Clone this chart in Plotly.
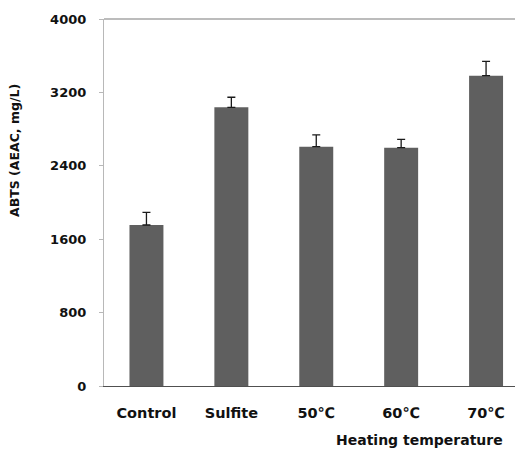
import plotly.graph_objects as go

categories = ["Control", "Sulfite", "50℃", "60℃", "70℃"]
values = [1755, 3037, 2608, 2598, 3382]
errors = [138, 110, 128, 91, 157]
y_ticks = [0, 800, 1600, 2400, 3200, 4000]

FONT = "DejaVu Sans"

# page body has an 8px margin; plot area target: x 104..523, y 19..386
fig = go.Figure()
fig.add_trace(go.Bar(
    x=categories, y=values,
    marker=dict(color="#5f5f5f", line=dict(width=0)),
    width=0.4,
    error_y=dict(type="data", array=errors, arrayminus=[0]*len(errors), symmetric=False,
                 color="#1a1a1a", thickness=1.3, width=4),
))

fig.update_layout(
    width=515, height=442,
    margin=dict(l=96, r=0, t=11, b=64),
    plot_bgcolor="white", paper_bgcolor="white",
    showlegend=False,
    xaxis=dict(
        range=[-0.5, 4.435],
        showline=True, linecolor="#505050", linewidth=1.2,
        ticks="", showgrid=False,
        tickfont=dict(family=FONT, size=14.5, color="#111", weight="bold"),
        ticklabelstandoff=13,
    ),
    yaxis=dict(
        range=[0, 4000],
        tickvals=y_ticks,
        showline=True, linecolor="#b8b8b8", linewidth=1.2,
        ticks="outside", ticklen=4, tickcolor="#b8b8b8",
        showgrid=False, zeroline=False,
        tickfont=dict(family=FONT, size=13, color="#111", weight="bold"),
        ticklabelstandoff=10,
    ),
    shapes=[dict(type="line", xref="paper", yref="paper", x0=0, x1=1, y0=1, y1=1,
                 line=dict(color="#7a7a7a", width=1.2))],
    annotations=[
        dict(text="Heating temperature", xref="paper", yref="paper",
             x=(419 - 104) / 419, y=(386 - 440) / 367, xanchor="center", yanchor="middle",
             showarrow=False, font=dict(family=FONT, size=14, color="#111", weight="bold")),
        dict(text="ABTS (AEAC, mg/L)", xref="paper", yref="paper",
             x=(14 - 104) / 419, y=(386 - 151) / 367, xanchor="center", yanchor="middle",
             textangle=-90, showarrow=False,
             font=dict(family=FONT, size=12.5, color="#111", weight="bold")),
    ],
)

fig.write_html("out.html")
